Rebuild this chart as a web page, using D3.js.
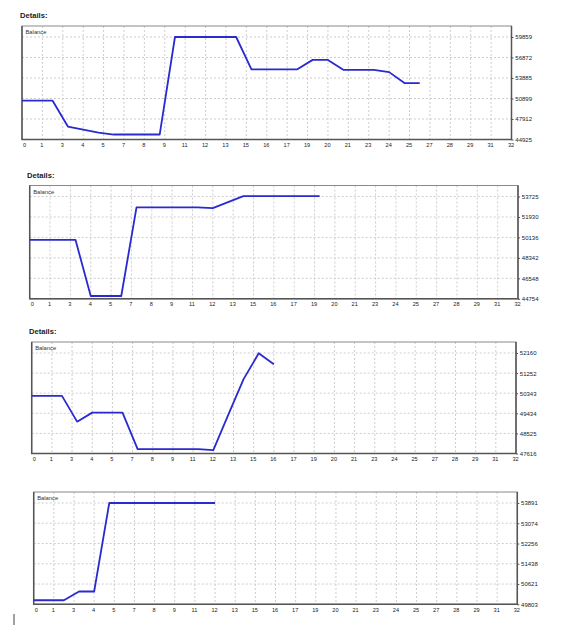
<html>
<script src='https://d3js.org/d3.v7.min.js'></script>
<style>
body {margin:0; background:#fff;}
svg text {font-family: "Liberation Sans", Arial, sans-serif;}
</style>
<body onload='init()'>
<svg width=565 height=625></svg>
<script>

// x axis labels (trade number, same on every chart)
var xLabels = [0,1,3,4,5,7,8,9,11,12,13,15,16,17,19,20,21,23,24,25,27,28,29,31,32];

// balance per trade
var balance1 = [50580,50580,50580,46810,46375,45940,45650,45650,45650,45650,59859,59859,59859,59859,59859,55150,55150,55150,55150,56525,56525,55075,55075,55075,54740,53150,53150];
var yLabels1 = [44925,47912,50899,53885,56872,59859];

var balance2 = [49930,49930,49930,49930,45000,45000,45000,52765,52765,52765,52765,52765,52711,53230,53760,53760,53760,53760,53760,53760];
var yLabels2 = [44754,46548,48342,50136,51930,53725];

var balance3 = [50220,50220,50220,49056,49465,49465,49465,47811,47811,47811,47811,47811,47766,49388,50979,52146,51647];
var yLabels3 = [47616,48525,49434,50343,51252,52160];

var balance4 = [49967,49967,49967,50319,50319,53891,53891,53891,53891,53891,53891,53891,53891];
var yLabels4 = [49803,50621,51438,52256,53074,53891];

function drawChart(svg, p, balance, yLabels){
  var g = svg.append("g");

  var x = d3.scaleLinear().domain([0,32]).range([p.left, p.right]);
  var y = d3.scaleLinear().domain([yLabels[0], yLabels[yLabels.length-1]]).range([p.bottom, p.top + 11]);

  var xPos = xLabels.map(function(d,i){ return i*32/(xLabels.length-1); });

  if (p.title) {
    g.append("text").attr("x", p.titleX).attr("y", p.top - 8)
      .attr("font-size", 7.6).attr("font-weight", "bold").attr("fill", "#222")
      .text(p.title);
  }

  // dotted grid
  g.selectAll(".vgrid").data(xPos.slice(1)).enter().append("line")
    .attr("x1", d => x(d)).attr("x2", d => x(d))
    .attr("y1", p.top).attr("y2", p.bottom)
    .attr("stroke", "#cdcdcd").attr("stroke-dasharray", "2,2");
  g.selectAll(".hgrid").data(yLabels.slice(1)).enter().append("line")
    .attr("x1", p.left).attr("x2", p.right)
    .attr("y1", d => y(d)).attr("y2", d => y(d))
    .attr("stroke", "#cdcdcd").attr("stroke-dasharray", "2,2");

  // frame
  g.append("rect").attr("x", p.left).attr("y", p.top)
    .attr("width", p.right - p.left).attr("height", p.bottom - p.top)
    .attr("fill", "none").attr("stroke", "#8a8a8a").attr("stroke-width", 1);
  g.append("path")
    .attr("d", "M" + p.left + "," + p.top + "V" + p.bottom + "H" + p.right + "V" + p.top)
    .attr("fill", "none").attr("stroke", "#555").attr("stroke-width", 1.5);

  g.append("text").attr("x", p.left + 3.5).attr("y", p.top + 8)
    .attr("font-size", 5.8).attr("fill", "#333").text("Balance");

  // balance line
  var line = d3.line().x(function(d,i){ return x(i); }).y(function(d){ return y(d); });
  g.append("path").datum(balance).attr("d", line)
    .style("fill", "none").style("stroke", "#2a2ad0").style("stroke-width", 1.8)
    .style("stroke-linejoin", "round");

  // axes
  var xAxis = g.append("g").attr("transform", "translate(-1," + p.bottom + ")")
    .call(d3.axisBottom(x).tickValues(xPos).tickSize(0).tickPadding(3.5)
      .tickFormat(function(d,i){ return xLabels[i]; }));
  xAxis.select(".domain").remove();
  xAxis.attr("font-size", 5.6).attr("font-family", "Liberation Sans, Arial, sans-serif");
  xAxis.selectAll("text").attr("fill", "#222");
  xAxis.selectAll(".tick").filter(function(d,i){ return i == 0; }).select("text").attr("x", 3);

  var yAxis = g.append("g").attr("transform", "translate(" + p.right + ",0)")
    .call(d3.axisRight(y).tickValues(yLabels).tickSize(2).tickPadding(1.8)
      .tickFormat(d3.format("d")));
  yAxis.select(".domain").remove();
  yAxis.attr("font-size", 6).attr("font-family", "Liberation Sans, Arial, sans-serif");
  yAxis.selectAll("line").attr("stroke", "#555");
  yAxis.selectAll("text").attr("fill", "#222");
}

function init(){
  var svg = d3.select("svg");

  drawChart(svg, {title:"Details:", titleX:20, left:22, right:511.5, top:26, bottom:139.5}, balance1, yLabels1);
  drawChart(svg, {title:"Details:", titleX:27, left:29.7, right:518, top:185.5, bottom:298.8}, balance2, yLabels2);
  drawChart(svg, {title:"Details:", titleX:29, left:31.7, right:516, top:342, bottom:453.5}, balance3, yLabels3);
  drawChart(svg, {title:null, left:33.7, right:517.3, top:492, bottom:604.3}, balance4, yLabels4);

  // text cursor left in the screenshot
  svg.append("line").attr("x1", 14).attr("x2", 14).attr("y1", 614).attr("y2", 625)
    .attr("stroke", "#444").attr("stroke-width", 1);
}
</script>
</body>
</html>
